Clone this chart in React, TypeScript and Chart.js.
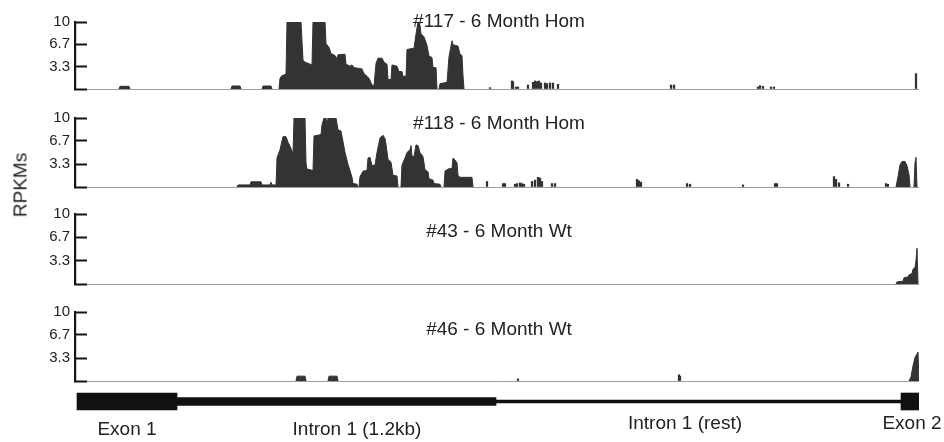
import React, { useEffect, useRef } from 'react';
import { Chart, registerables } from 'chart.js';

Chart.register(...registerables);

// ---------- DATA (positions are bins along the locus, 0..844) ----------
const yTickValues = [0, 3.3, 6.7, 10];
const yTickLabels = ['', '3.3', '6.7', '10'];

const trackTitles = ['#117 - 6 Month Hom', '#118 - 6 Month Hom', '#43 - 6 Month Wt', '#46 - 6 Month Wt'];

// #117 coverage profile (RPKM)
const hom117Pos = [0, 44, 45, 54, 55, 156, 157, 165, 166, 187, 188, 196, 197,
  204, 205, 207, 211, 212, 226, 228, 230, 237, 238, 250, 251, 254, 256, 260, 262, 263, 270, 271, 275, 277, 279, 287, 289, 294, 297, 299,
  301, 303, 307, 309, 312, 313, 316, 317, 322, 324, 327, 328, 331, 332, 339, 341, 343, 345, 346, 349, 352, 354, 357, 358, 361, 362,
  364, 365, 372, 374, 377, 378, 383, 385, 387, 388, 389, 844];
const hom117Val = [0, 0, 0.4, 0.4, 0, 0, 0.45, 0.45, 0, 0, 0.45, 0.45, 0,
  0, 1.6, 2.0, 2.2, 10, 10, 4.3, 4.0, 3.6, 10, 10, 6.8, 6.2, 5.3, 5.0, 4.5, 5.1, 5.2, 3.7, 3.4, 3.6, 3.2, 3.0, 2.3, 1.6, 0.6, 0.5,
  3.8, 4.6, 4.6, 4.0, 3.7, 1.4, 1.4, 3.6, 3.4, 2.6, 2.6, 1.9, 1.9, 5.9, 6.1, 8.2, 10, 9.5, 8.2, 7.8, 6.5, 4.9, 4.7, 3.2, 3.2, 0,
  0, 0.8, 1.0, 4.8, 7.2, 6.6, 6.4, 5.2, 5.0, 2.0, 0, 0];
const hom117SpikePos = [415, 437, 438, 441, 443, 453, 458, 460, 462, 464, 466, 470, 472, 475, 478, 483, 596, 599, 683, 685, 688, 696, 699, 841];
const hom117SpikeVal = [0.2, 1.2, 1.1, 0.3, 0.3, 0.6, 1.0, 1.2, 1.1, 1.2, 0.9, 0.9, 0.8, 0.9, 0.9, 0.7, 0.6, 0.6, 0.3, 0.5, 0.4, 0.3, 0.3, 2.3];

// #118 coverage profile (RPKM)
const hom118Pos = [0, 162, 163, 175, 176, 186, 187, 195, 196, 197, 201,
  202, 205, 208, 211, 213, 216, 218, 219, 230, 231, 232, 238, 239, 246, 247, 249, 251, 252, 253, 261, 263, 266, 268, 270, 273, 277, 278, 282, 283,
  284, 285, 288, 292, 293, 295, 297, 300, 302, 305, 308, 310, 311, 313, 316, 318, 322, 323,
  326, 327, 330, 332, 335, 336, 337, 339, 341, 343, 345, 348, 350, 353, 354, 358, 359, 365, 366,
  369, 370, 373, 377, 378, 380, 382, 383, 385, 397, 398,
  821, 823, 825, 827, 830, 832, 834, 835, 839, 840, 841, 842, 844];
const hom118Val = [0, 0, 0.3, 0.3, 0.75, 0.75, 0.3, 0.3, 0.7, 0.3, 0.3,
  4.2, 5.4, 7.3, 7.3, 6.5, 5.6, 4.8, 10, 10, 3.5, 2.6, 2.4, 7.4, 7.6, 9.0, 10, 10, 9.0, 10, 10, 8.3, 8.1, 6.6, 5.0, 3.3, 1.4, 0.5, 0.4, 0,
  0, 1.5, 2.3, 2.4, 4.2, 4.3, 3.1, 3.2, 5.0, 7.1, 7.5, 7.0, 6.2, 4.0, 3.6, 1.7, 1.6, 0,
  0, 3.2, 4.2, 5.0, 5.4, 6.0, 4.5, 4.4, 6.1, 6.0, 5.0, 4.4, 2.5, 2.2, 1.2, 1.0, 0.5, 0.4, 0,
  0, 2.3, 2.6, 2.7, 4.2, 3.9, 3.5, 1.7, 1.4, 1.4, 0,
  0, 1.5, 3.2, 3.7, 3.7, 3.1, 1.8, 0, 0, 3.5, 4.3, 0, 0];
const hom118SpikePos = [412, 428, 430, 440, 442, 445, 447, 449, 457, 460, 463, 465, 467, 477, 480, 562, 564, 566, 612, 615, 668, 700, 702, 759, 761, 764, 773, 811, 813];
const hom118SpikeVal = [0.8, 0.5, 0.5, 0.4, 0.5, 0.6, 0.5, 0.4, 0.8, 1.0, 1.4, 1.3, 0.8, 0.5, 0.5, 1.1, 0.9, 0.7, 0.5, 0.4, 0.3, 0.5, 0.5, 1.5, 1.1, 0.6, 0.4, 0.5, 0.4];

// #43 coverage profile (RPKM)
const wt43Pos = [0, 821, 822, 828, 829, 833, 834, 837, 838, 840, 841, 842, 843];
const wt43Val = [0, 0, 0.3, 0.4, 0.9, 1.0, 1.3, 1.5, 2.1, 2.4, 3.4, 5.1, 0];
const wt43SpikePos: number[] = [];
const wt43SpikeVal: number[] = [];

// #46 coverage profile (RPKM)
const wt46Pos = [0, 221, 222, 230, 231, 253, 254, 262, 263, 834, 836, 838, 840, 842, 843, 844];
const wt46Val = [0, 0, 0.7, 0.7, 0, 0, 0.7, 0.7, 0, 0, 0.6, 2.2, 3.4, 3.9, 4.2, 0];
const wt46SpikePos = [443, 604, 605];
const wt46SpikeVal = [0.3, 0.9, 0.7];

// gene model (bins)
const geneParts = ['Exon 1', 'Intron 1 (1.2kb)', 'Intron 1 (rest)', 'Exon 2'];
const geneStart = [2, 102, 421, 826];
const geneEnd = [102, 421, 827, 845];
const geneLabelPos = [52, 282, 610, 837];

// ---------- STYLE / LAYOUT ----------
const FONT = '"Liberation Sans", Arial, Helvetica, sans-serif';
const FILL = '#333333';
const AXIS = '#151515';
const TEXT = '#222';
const X_MIN = 0;
const X_MAX = 844;

const trackLayout = [
  { top10: 22, base: 89, titleDy: 0 },
  { top10: 118, base: 187, titleDy: 6 },
  { top10: 214, base: 284, titleDy: 18 },
  { top10: 312, base: 381, titleDy: 18 },
];
const PAD_TOP = 34;
const PAD_BOTTOM = 34;

const geneThickness = [17, 8, 3, 17];
const geneLabelY = [430, 430, 424, 424];
const GENE_TOP = 380;
const GENE_H = 62;

const trackData = [
  { pos: hom117Pos, val: hom117Val, sp: hom117SpikePos, sv: hom117SpikeVal },
  { pos: hom118Pos, val: hom118Val, sp: hom118SpikePos, sv: hom118SpikeVal },
  { pos: wt43Pos, val: wt43Val, sp: wt43SpikePos, sv: wt43SpikeVal },
  { pos: wt46Pos, val: wt46Val, sp: wt46SpikePos, sv: wt46SpikeVal },
];

const titlePlugin = {
  id: 'trackTitle',
  afterDraw(chart: any, _args: any, opts: any) {
    const { ctx, chartArea } = chart;
    ctx.save();
    ctx.font = `19px ${FONT}`;
    ctx.fillStyle = TEXT;
    ctx.textAlign = 'center';
    ctx.textBaseline = 'middle';
    ctx.fillText(opts.text, (chartArea.left + chartArea.right) / 2 + 2, chartArea.top + opts.dy);
    ctx.restore();
  },
};

const geneLabelPlugin = {
  id: 'geneLabels',
  afterDraw(chart: any) {
    const { ctx } = chart;
    const xs = chart.scales.x;
    ctx.save();
    ctx.font = `19px ${FONT}`;
    ctx.fillStyle = TEXT;
    ctx.textAlign = 'center';
    ctx.textBaseline = 'middle';
    geneParts.forEach((name, i) => {
      ctx.fillText(name, xs.getPixelForValue(geneLabelPos[i]), geneLabelY[i] - GENE_TOP);
    });
    ctx.restore();
  },
};

function makeTrack(canvas: HTMLCanvasElement, idx: number) {
  const d = trackData[idx];
  const lay = trackLayout[idx];
  const area = d.pos.map((x, i) => ({ x, y: d.val[i] }));
  const spikes = d.sp.map((x, i) => ({ x, y: d.sv[i] }));
  return new Chart(canvas, {
    type: 'line',
    data: {
      datasets: [
        {
          type: 'line',
          data: area,
          fill: 'origin',
          backgroundColor: FILL,
          borderColor: FILL,
          borderWidth: 1,
          pointRadius: 0,
          tension: 0,
          segment: {
            borderColor: (c: any) => (c.p0.parsed.y === 0 && c.p1.parsed.y === 0 ? 'rgba(0,0,0,0)' : undefined),
          },
        } as any,
        {
          type: 'bar',
          data: spikes,
          backgroundColor: FILL,
          barThickness: 1.6,
          borderWidth: 0,
        } as any,
      ],
    },
    options: {
      animation: false,
      responsive: false,
      maintainAspectRatio: false,
      events: [],
      layout: { padding: { top: PAD_TOP, bottom: PAD_BOTTOM, left: 0, right: 25 } },
      plugins: {
        legend: { display: false },
        tooltip: { enabled: false },
        trackTitle: { text: trackTitles[idx], dy: lay.titleDy },
      } as any,
      scales: {
        x: { type: 'linear', min: X_MIN, max: X_MAX, display: false, offset: false },
        y: {
          type: 'linear',
          min: 0,
          max: 10,
          position: 'left',
          border: { display: true, color: AXIS, width: 2.2 },
          grid: {
            drawOnChartArea: true,
            drawTicks: true,
            tickLength: -12,
            tickColor: AXIS,
            tickWidth: 2,
            lineWidth: 1,
            color: (c: any) => (c.tick && c.tick.value === 0 ? '#9c9c9c' : 'rgba(0,0,0,0)'),
          },
          ticks: {
            autoSkip: false,
            padding: 17,
            color: TEXT,
            font: { family: FONT, size: 15 },
            callback: (_v: any, i: number) => yTickLabels[i],
          },
          afterBuildTicks: (s: any) => {
            s.ticks = yTickValues.map((value) => ({ value }));
          },
          afterFit: (s: any) => {
            s.width = 75;
          },
        } as any,
      },
    },
    plugins: [titlePlugin],
  } as any);
}

function makeGene(canvas: HTMLCanvasElement) {
  return new Chart(canvas, {
    type: 'bar',
    data: {
      labels: ['gene'],
      datasets: geneParts.map((name, i) => ({
        label: name,
        data: [[geneStart[i], geneEnd[i]]],
        backgroundColor: '#111',
        borderWidth: 0,
        barThickness: geneThickness[i],
        grouped: false,
      })) as any,
    },
    options: {
      indexAxis: 'y',
      animation: false,
      responsive: false,
      maintainAspectRatio: false,
      events: [],
      layout: { padding: { top: 12, bottom: 31, left: 75, right: 25 } },
      plugins: { legend: { display: false }, tooltip: { enabled: false } },
      scales: {
        x: { type: 'linear', min: X_MIN, max: X_MAX, display: false },
        y: { display: false },
      },
    },
    plugins: [geneLabelPlugin],
  } as any);
}

export default function App() {
  const trackRefs = [useRef<HTMLCanvasElement>(null), useRef<HTMLCanvasElement>(null), useRef<HTMLCanvasElement>(null), useRef<HTMLCanvasElement>(null)];
  const geneRef = useRef<HTMLCanvasElement>(null);

  useEffect(() => {
    const charts: Chart[] = [];
    trackRefs.forEach((r, i) => {
      if (r.current) charts.push(makeTrack(r.current, i));
    });
    if (geneRef.current) charts.push(makeGene(geneRef.current));
    return () => charts.forEach((c) => c.destroy());
  }, []);

  return (
    <div style={{ position: 'absolute', left: 0, top: 0, width: 944, height: 442, background: '#fff', overflow: 'hidden' }}>
      {trackLayout.map((lay, i) => {
        const h = lay.base - lay.top10 + PAD_TOP + PAD_BOTTOM;
        return (
          <canvas
            key={i}
            ref={trackRefs[i]}
            width={944}
            height={h}
            style={{ position: 'absolute', left: 0, top: lay.top10 - PAD_TOP, width: 944, height: h }}
          />
        );
      })}
      <canvas
        ref={geneRef}
        width={944}
        height={GENE_H}
        style={{ position: 'absolute', left: 0, top: GENE_TOP, width: 944, height: GENE_H }}
      />
      <div
        style={{
          position: 'absolute',
          left: 20,
          top: 185,
          transform: 'translate(-50%, -50%) rotate(-90deg)',
          fontFamily: FONT,
          fontSize: 19,
          color: TEXT,
          whiteSpace: 'nowrap',
          lineHeight: 1,
        }}
      >
        RPKMs
      </div>
    </div>
  );
}
